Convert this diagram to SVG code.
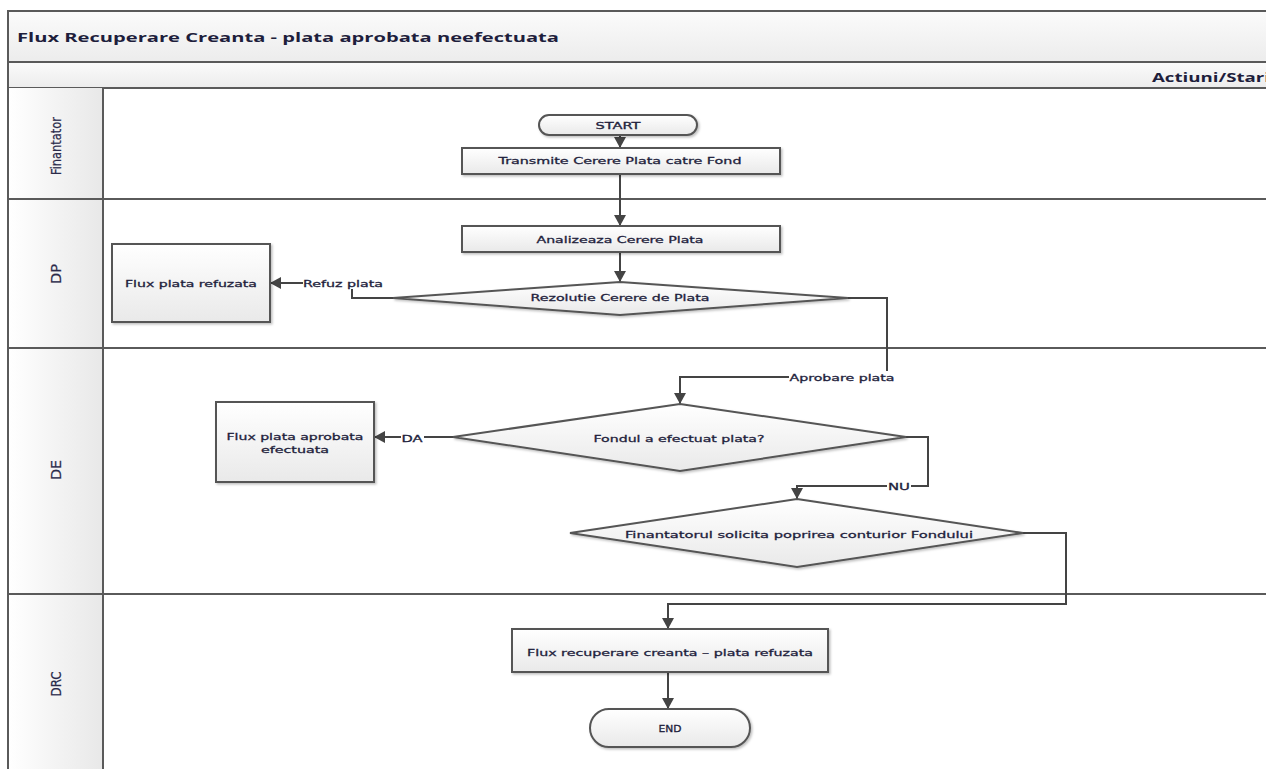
<svg xmlns="http://www.w3.org/2000/svg" width="1266" height="769" viewBox="0 0 1266 769">
<defs>
<linearGradient id="gNode" x1="0" y1="0" x2="0" y2="1"><stop offset="0" stop-color="#ffffff"/><stop offset="1" stop-color="#e9e9e9"/></linearGradient>
<linearGradient id="gLane" x1="0" y1="0" x2="1" y2="0"><stop offset="0" stop-color="#ffffff"/><stop offset="1" stop-color="#e8e8e8"/></linearGradient>
<linearGradient id="gBar" x1="0" y1="0" x2="0" y2="1"><stop offset="0" stop-color="#fbfbfb"/><stop offset="1" stop-color="#ececec"/></linearGradient>
<filter id="sh" x="-10%" y="-10%" width="130%" height="140%"><feDropShadow dx="1.5" dy="1.5" stdDeviation="1" flood-color="#000" flood-opacity="0.25"/></filter>
<marker id="arr" markerUnits="userSpaceOnUse" markerWidth="12" markerHeight="12" refX="11" refY="6" orient="auto"><path d="M0,0 L11,6 L0,12 z" fill="#444"/></marker>
</defs>
<style>
.frame{fill:none;stroke:#5a5a5a;stroke-width:2}
.node{fill:url(#gNode);stroke:#555;stroke-width:2;filter:url(#sh)}
.t{font-family:"DejaVu Sans","Verdana",sans-serif;font-size:9.5px;fill:#1e1e3c;stroke:#1e1e3c;stroke-width:0.3;text-anchor:middle;dominant-baseline:central}
.lane{font-family:"DejaVu Sans Condensed","DejaVu Sans",sans-serif;font-size:14px;fill:#2a2a4a;stroke:#2a2a4a;stroke-width:0.2;text-anchor:middle;dominant-baseline:central}
.title{font-family:"Open Sans","DejaVu Sans",sans-serif;font-size:13px;font-weight:bold;fill:#1e1e3c;dominant-baseline:central}
.con{fill:none;stroke:#444;stroke-width:2}
.lbg{fill:#ffffff}
</style>
<rect x="0" y="0" width="1266" height="769" fill="#ffffff"/>
<g id="frame">
<rect x="8" y="11" width="1270" height="51" fill="url(#gBar)" stroke="#5a5a5a" stroke-width="2"/>
<rect x="8" y="62" width="1270" height="26" fill="url(#gBar)" stroke="#5a5a5a" stroke-width="2"/>
<text class="title" x="17" y="37" textLength="542" lengthAdjust="spacingAndGlyphs">Flux Recuperare Creanta -  plata aprobata neefectuata</text>
<text class="title" x="1152" y="77" textLength="118" lengthAdjust="spacingAndGlyphs">Actiuni/Stari</text>
</g>
<g id="lanes">
<rect x="8" y="88" width="95" height="690" fill="url(#gLane)"/>
<line class="frame" x1="8" y1="88" x2="8" y2="769"/>
<line class="frame" x1="103" y1="88" x2="103" y2="769"/>
<line class="frame" x1="8" y1="199" x2="1270" y2="199"/>
<line class="frame" x1="8" y1="348" x2="1270" y2="348"/>
<line class="frame" x1="8" y1="594" x2="1270" y2="594"/>
<text class="lane" transform="translate(56,146) rotate(-90)" textLength="58" lengthAdjust="spacingAndGlyphs">Finantator</text>
<text class="lane" transform="translate(56,274) rotate(-90)" textLength="20" lengthAdjust="spacingAndGlyphs">DP</text>
<text class="lane" transform="translate(56,470) rotate(-90)" textLength="20" lengthAdjust="spacingAndGlyphs">DE</text>
<text class="lane" transform="translate(56,684) rotate(-90)" textLength="25" lengthAdjust="spacingAndGlyphs">DRC</text>
</g>
<g id="connectors">
<path class="con" d="M620,135 V148" marker-end="url(#arr)"/>
<path class="con" d="M620,174 V226" marker-end="url(#arr)"/>
<path class="con" d="M620,252 V282" marker-end="url(#arr)"/>
<path class="con" d="M393,298 H352 V283 H270" marker-end="url(#arr)"/>
<path class="con" d="M848,298 H887 V377 H680 V404" marker-end="url(#arr)"/>
<path class="con" d="M453,437 H374" marker-end="url(#arr)"/>
<path class="con" d="M906,437 H928 V486 H797 V499" marker-end="url(#arr)"/>
<path class="con" d="M1023,533 H1066 V604 H668 V629" marker-end="url(#arr)"/>
<path class="con" d="M668,672 V709" marker-end="url(#arr)"/>
<rect class="lbg" x="303" y="277" width="81" height="12"/>
<text class="t" x="343" y="283" textLength="80" lengthAdjust="spacingAndGlyphs">Refuz plata</text>
<rect class="lbg" x="789" y="371" width="107" height="12"/>
<text class="t" x="842" y="377" textLength="105" lengthAdjust="spacingAndGlyphs">Aprobare plata</text>
<rect class="lbg" x="401" y="432" width="23" height="12"/>
<text class="t" x="412" y="438" textLength="21" lengthAdjust="spacingAndGlyphs">DA</text>
<rect class="lbg" x="887" y="480" width="24" height="12"/>
<text class="t" x="899" y="486" textLength="22" lengthAdjust="spacingAndGlyphs">NU</text>
</g>
<g id="start">
<rect class="node" x="539" y="115" width="158" height="20" rx="10" ry="10"/>
<text class="t" x="618" y="125" textLength="45" lengthAdjust="spacingAndGlyphs">START</text>
</g>
<g id="transmite">
<rect class="node" x="462" y="148" width="318" height="26"/>
<text class="t" x="620" y="160" textLength="243" lengthAdjust="spacingAndGlyphs">Transmite Cerere Plata catre Fond</text>
</g>
<g id="analizeaza">
<rect class="node" x="462" y="226" width="318" height="26"/>
<text class="t" x="620" y="239" textLength="167" lengthAdjust="spacingAndGlyphs">Analizeaza Cerere Plata</text>
</g>
<g id="rezolutie">
<polygon class="node" points="620,282 848,298 620,315 393,298"/>
<text class="t" x="620" y="297" textLength="179" lengthAdjust="spacingAndGlyphs">Rezolutie Cerere de Plata</text>
</g>
<g id="refuzata">
<rect class="node" x="112" y="244" width="158" height="78"/>
<text class="t" x="191" y="283" textLength="132" lengthAdjust="spacingAndGlyphs">Flux plata refuzata</text>
</g>
<g id="fondul">
<polygon class="node" points="680,404 906,437 680,471 453,437"/>
<text class="t" x="679" y="438" textLength="171" lengthAdjust="spacingAndGlyphs">Fondul a efectuat plata?</text>
</g>
<g id="efectuata">
<rect class="node" x="216" y="402" width="158" height="80"/>
<text class="t" x="295" y="436" textLength="137" lengthAdjust="spacingAndGlyphs">Flux plata aprobata</text>
<text class="t" x="295" y="449" textLength="68" lengthAdjust="spacingAndGlyphs">efectuata</text>
</g>
<g id="poprire">
<polygon class="node" points="797,499 1023,533 797,567 570,533"/>
<text class="t" x="799" y="534" textLength="348" lengthAdjust="spacingAndGlyphs">Finantatorul solicita poprirea  conturior Fondului</text>
</g>
<g id="recuperare">
<rect class="node" x="512" y="629" width="316" height="43"/>
<text class="t" x="670" y="652" textLength="286" lengthAdjust="spacingAndGlyphs">Flux recuperare creanta – plata refuzata</text>
</g>
<g id="end">
<rect class="node" x="590" y="709" width="160" height="38" rx="19" ry="19"/>
<text class="t" x="670" y="728" textLength="23" lengthAdjust="spacingAndGlyphs">END</text>
</g>
</svg>
